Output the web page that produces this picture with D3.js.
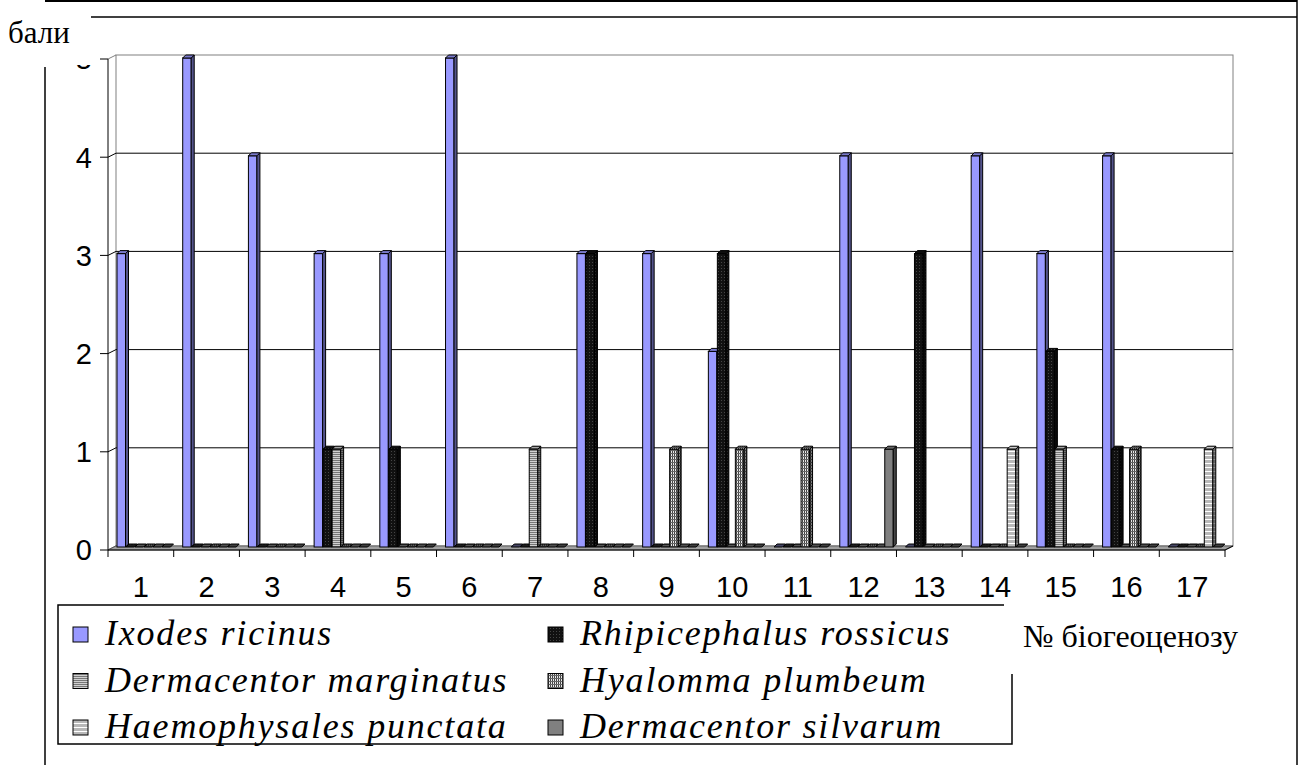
<!DOCTYPE html>
<html>
<head>
<meta charset="utf-8">
<script src="https://cdn.jsdelivr.net/npm/d3@7"></script>
<style>
body { margin: 0; background: #fff; }
</style>
</head>
<body>
<script>
// categories (№ біогеоценозу) and series values (бали)
const categories = ['1','2','3','4','5','6','7','8','9','10','11','12','13','14','15','16','17']
const seriesNames = ['Ixodes ricinus', 'Rhipicephalus rossicus', 'Dermacentor marginatus',
                     'Hyalomma plumbeum', 'Haemophysales punctata', 'Dermacentor silvarum']
const ixodes     = [3,5,4,3,3,5,0,3,3,2,0,4,0,4,3,4,0]
const rhipiceph  = [0,0,0,1,1,0,0,3,0,3,0,0,3,0,2,1,0]
const dermMarg   = [0,0,0,1,0,0,1,0,0,0,0,0,0,0,1,0,0]
const hyalomma   = [0,0,0,0,0,0,0,0,1,1,1,0,0,0,0,1,0]
const haemoph    = [0,0,0,0,0,0,0,0,0,0,0,0,0,1,0,0,1]
const dermSilv   = [0,0,0,0,0,0,0,0,0,0,0,1,0,0,0,0,0]
const yTicks = [0,1,2,3,4,5]

const seriesValues = [ixodes, rhipiceph, dermMarg, hyalomma, haemoph, dermSilv]
const fills = ['#9999ff','url(#p-rhip)','url(#p-dmarg)','url(#p-hyal)','url(#p-haem)','#808080']
const SERIF = '"Liberation Serif", "Times New Roman", serif'
const SANS = '"Liberation Sans", Arial, sans-serif'

const W = 1299, H = 765
const svg = d3.select('body').append('svg')
      .attr('width', W)
      .attr('height', H)

// patterns for the grey series
const defs = svg.append('defs')
const rhip = defs.append('pattern').attr('id','p-rhip').attr('patternUnits','userSpaceOnUse')
      .attr('width',3).attr('height',3)
rhip.append('rect').attr('width',3).attr('height',3).attr('fill','#111')
rhip.append('rect').attr('x',1).attr('y',1).attr('width',1).attr('height',1).attr('fill','#444')
const dmarg = defs.append('pattern').attr('id','p-dmarg').attr('patternUnits','userSpaceOnUse')
      .attr('width',4).attr('height',2)
dmarg.append('rect').attr('width',4).attr('height',2).attr('fill','#d0d0d0')
dmarg.append('rect').attr('width',4).attr('height',1).attr('fill','#777')
const hyal = defs.append('pattern').attr('id','p-hyal').attr('patternUnits','userSpaceOnUse')
      .attr('width',2).attr('height',3)
hyal.append('rect').attr('width',2).attr('height',3).attr('fill','#e8e8e8')
hyal.append('rect').attr('width',1).attr('height',3).attr('fill','#444')
hyal.append('rect').attr('width',2).attr('height',1).attr('fill','#666')
const haem = defs.append('pattern').attr('id','p-haem').attr('patternUnits','userSpaceOnUse')
      .attr('width',4).attr('height',4)
haem.append('rect').attr('width',4).attr('height',4).attr('fill','#b8b8b8')
haem.append('rect').attr('y',3).attr('width',4).attr('height',1).attr('fill','#fff')

// scales: back wall, front axis, bars
const xBack = d3.scaleBand().domain(categories).range([116, 1233])
const xFront = d3.scaleBand().domain(categories).range([108, 1225])
const xSeries = d3.scaleBand().domain(seriesNames).range([1, 55])
const yBack = d3.scaleLinear().domain([0,5]).range([546, 55])
const yFront = d3.scaleLinear().domain([0,5]).range([550, 59])
const yBar = d3.scaleLinear().domain([0,5]).range([547, 58])
const bw = 8.5, depth = 3

// back wall
svg.append('rect')
  .attr('x', xBack.range()[0]).attr('y', yBack(5))
  .attr('width', xBack.range()[1] - xBack.range()[0])
  .attr('height', yBack(0) - yBack(5))
  .attr('fill', '#fff').attr('stroke', '#808080')

// gridlines on back wall and left wall
yTicks.filter(d => d > 0 && d < 5).forEach(function(t) {
  svg.append('line')
    .attr('x1', xBack.range()[0]).attr('x2', xBack.range()[1])
    .attr('y1', yBack(t)).attr('y2', yBack(t))
    .attr('stroke', '#000')
})
yTicks.forEach(function(t) {
  svg.append('line')
    .attr('x1', xFront.range()[0]).attr('y1', yFront(t))
    .attr('x2', xBack.range()[0]).attr('y2', yBack(t))
    .attr('stroke', t === 5 ? '#808080' : '#000')
})

// floor
const fx0 = xFront.range()[0], fx1 = xFront.range()[1]
const bx0 = xBack.range()[0], bx1 = xBack.range()[1]
svg.append('path')
  .attr('d', `M${fx0},${yFront(0)}L${fx1},${yFront(0)}L${bx1},${yBack(0)}L${bx0},${yBack(0)}Z`)
  .attr('fill', '#a0a0a0').attr('stroke', '#606060')

// bars
categories.forEach(function(c, i) {
  seriesNames.forEach(function(s, j) {
    const v = seriesValues[j][i]
    const x0 = xBack(c) + xSeries(s)
    const y0 = yBar(0), y1 = yBar(v)
    const g = svg.append('g')
    if (v > 0) {
      g.append('rect').attr('x', x0).attr('y', y1).attr('width', bw).attr('height', y0 - y1)
        .attr('fill', fills[j]).attr('stroke', '#000').attr('stroke-width', 1)
      const side = `M${x0+bw},${y1}L${x0+bw+depth},${y1-depth}L${x0+bw+depth},${y0-depth}L${x0+bw},${y0}Z`
      g.append('path').attr('d', side).attr('fill', fills[j])
      g.append('path').attr('d', side).attr('fill', '#000').attr('fill-opacity', 0.45)
        .attr('stroke', '#000').attr('stroke-width', 1)
    }
    const top = `M${x0},${y1}L${x0+depth},${y1-depth}L${x0+bw+depth},${y1-depth}L${x0+bw},${y1}Z`
    g.append('path').attr('d', top).attr('fill', fills[j])
    g.append('path').attr('d', top).attr('fill', v > 0 ? '#000' : '#222')
      .attr('fill-opacity', v > 0 ? 0.2 : 0.7)
      .attr('stroke', '#000').attr('stroke-width', 1)
  })
})

// right edge of the floor / wall
svg.append('line')
  .attr('x1', fx1).attr('y1', yFront(0)).attr('x2', bx1).attr('y2', yBack(0))
  .attr('stroke', '#000')

// y axis
svg.append('line').attr('x1', fx0).attr('x2', fx0)
  .attr('y1', yFront(5)).attr('y2', yFront(0)).attr('stroke', '#000')
yTicks.forEach(function(t) {
  svg.append('line').attr('x1', fx0 - 8).attr('x2', fx0)
    .attr('y1', yFront(t)).attr('y2', yFront(t)).attr('stroke', '#000')
  svg.append('text')
    .attr('x', 92).attr('y', yFront(t))
    .attr('dy', '0.36em')
    .attr('text-anchor', 'end')
    .style('font-family', SANS)
    .style('font-size', '29px')
    .text(t)
})

// x axis
svg.append('line').attr('x1', fx0).attr('x2', fx1)
  .attr('y1', yFront(0)).attr('y2', yFront(0)).attr('stroke', '#000')
categories.forEach(function(c) {
  svg.append('line').attr('x1', xFront(c)).attr('x2', xFront(c))
    .attr('y1', yFront(0)).attr('y2', yFront(0) + 7).attr('stroke', '#000')
  svg.append('text')
    .attr('x', xFront(c) + xFront.bandwidth() / 2).attr('y', 597)
    .attr('text-anchor', 'middle')
    .style('font-family', SANS)
    .style('font-size', '29px')
    .text(c)
})
svg.append('line').attr('x1', fx1).attr('x2', fx1)
  .attr('y1', yFront(0)).attr('y2', yFront(0) + 7).attr('stroke', '#000')

// legend
const legend = svg.append('g')
legend.append('rect').attr('x', 58).attr('y', 605).attr('width', 954).attr('height', 139)
  .attr('fill', '#fff').attr('stroke', '#000').attr('stroke-width', 1.5)
seriesNames.forEach(function(s, j) {
  const col = j % 2, row = Math.floor(j / 2)
  const lx = col === 0 ? 73 : 548
  const ly = 645 + row * 46.5
  legend.append('rect').attr('x', lx).attr('y', ly - 18).attr('width', 15).attr('height', 15)
    .attr('fill', fills[j]).attr('stroke', '#000')
  legend.append('text')
    .attr('x', lx + 32).attr('y', ly)
    .style('font-family', SERIF)
    .style('font-style', 'italic')
    .style('font-size', '36px')
    .style('letter-spacing', '1.8px')
    .text(s)
})

// x title box covering the legend corner
svg.append('rect').attr('x', 1004).attr('y', 598).attr('width', 290).attr('height', 76).attr('fill', '#fff')
svg.append('text')
  .attr('x', 1023).attr('y', 647)
  .style('font-family', SERIF)
  .style('font-size', '32px')
  .text('№ біогеоценозу')

// y title box (hides the top of the "5")
svg.append('rect').attr('x', 0).attr('y', 18).attr('width', 98).attr('height', 47).attr('fill', '#fff')
svg.append('text')
  .attr('x', 8).attr('y', 43)
  .style('font-family', SERIF)
  .style('font-size', '31px')
  .text('бали')

// page frame lines
svg.append('line').attr('x1', 45).attr('x2', 1297).attr('y1', 1).attr('y2', 1).attr('stroke', '#000').attr('stroke-width', 2)
svg.append('line').attr('x1', 91).attr('x2', 1297).attr('y1', 17).attr('y2', 17).attr('stroke', '#000').attr('stroke-width', 1.5)
svg.append('line').attr('x1', 1297).attr('x2', 1297).attr('y1', 0).attr('y2', H).attr('stroke', '#000').attr('stroke-width', 1.5)
svg.append('line').attr('x1', 45).attr('x2', 45).attr('y1', 67).attr('y2', H).attr('stroke', '#000').attr('stroke-width', 1.5)
</script>
</body>
</html>
